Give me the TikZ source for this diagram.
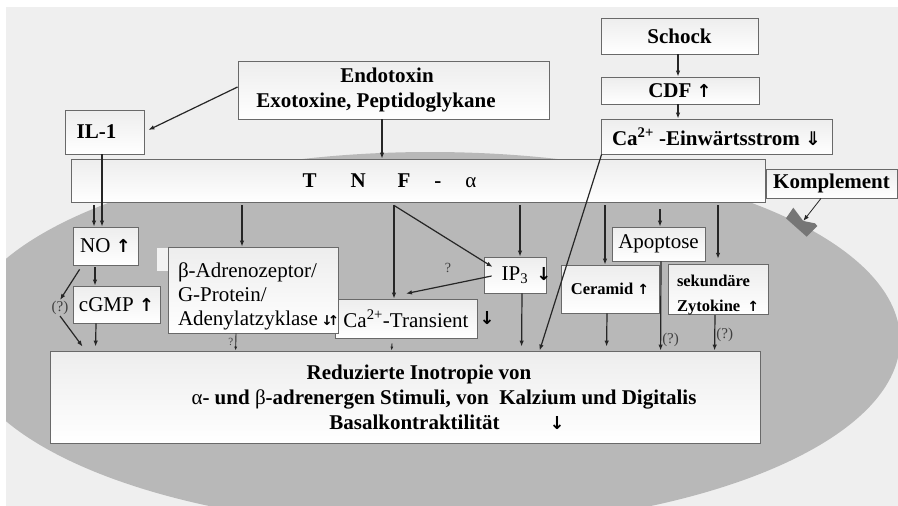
\documentclass[tikz,border=0pt]{standalone}
\usepackage{fontspec}
\setmainfont{Liberation Serif}
\newfontfamily\arrfont[Scale=0.85]{DejaVu Sans Bold}
\newfontfamily\dblarrfont[Scale=0.9]{DejaVu Sans}
\usetikzlibrary{arrows.meta,positioning}

\definecolor{paneltone}{RGB}{239,239,239}
\definecolor{celltone}{RGB}{184,184,184}
\definecolor{rezeptor}{RGB}{118,118,118}
\definecolor{rahmen}{RGB}{105,105,105}
\definecolor{hinweis}{RGB}{64,64,64}

\newcommand{\upar}{{\arrfont ↑}}
\newcommand{\dnar}{{\arrfont ↓}}

\begin{document}
\begin{tikzpicture}[x=1pt,y=-1pt,>={Latex[length=6pt,width=4.5pt]},
    box/.style={draw=rahmen,line width=0.8pt,top color=gray!14,bottom color=white,
      inner sep=0pt,font=\fontsize{21}{25}\selectfont\bfseries},
    plainbox/.style={box,font=\fontsize{21}{24}\selectfont},
    smallbox/.style={box,font=\fontsize{16.5}{25}\selectfont\bfseries},
    pfeil/.style={->,line width=1.2pt,black!85},
    kurz/.style={pfeil,>={Latex[length=4pt,width=3pt]},line width=0.9pt},
    frage/.style={font=\fontsize{15}{16}\selectfont,text=hinweis,inner sep=1pt}]

  \useasboundingbox (0,0) rectangle (898,506);
  % panel and cell
  \fill[paneltone] (6,7) rectangle (898,506);
  \begin{scope}
    \clip (6,7) rectangle (898,506);
    \fill[celltone] (430,340) ellipse [x radius=470pt, y radius=188pt];
  \end{scope}
  % complement receptor on the membrane
  \fill[rezeptor] (793.3,207.7) -- (803.3,221) -- (815,223.3) -- (817.3,226)
    -- (806.7,236.7) -- (786,218.3) -- cycle;
  \coordinate (rez) at (803.3,221);

  % sources
  \node[box,minimum width=311pt,minimum height=58pt,align=center] (endo) at (393.5,90)
    {Endotoxin\hspace{13pt}\mbox{}\\Exotoxine, Peptidoglykane\hspace{35pt}\mbox{}};
  \node[box,minimum width=79pt,minimum height=44pt] (il1) at (104.5,132) {IL-1\hspace{16pt}\mbox{}};
  \node[box,minimum width=157pt,minimum height=36pt] (schock) at (679.5,36) {Schock};
  \node[box,minimum width=158pt,minimum height=27pt] (cdf) at (680,90.5) {CDF \upar};
  \node[box,minimum width=231pt,minimum height=35pt] (caein) at (716.5,136.5) {Ca\textsuperscript{2+} -Einwärtsstrom {\dblarrfont ⇓}};

  % TNF bar
  \node[box,minimum width=694pt,minimum height=43pt] (tnf) at (418,180.5)
    {T\hspace{34pt}N\hspace{32pt}F\hspace{24pt}-\hspace{24pt}{\mdseries α}\hspace{57pt}\mbox{}};
  \node[box,minimum width=131pt,minimum height=29pt] (kompl) at (831.5,183.5) {Komplement};

  % inside the cell
  \node[plainbox,minimum width=65pt,minimum height=38pt] (no) at (105.5,246) {NO \upar};
  \node[plainbox,minimum width=87pt,minimum height=37pt] (cgmp) at (116.5,304.5) {cGMP \upar};
  \node[frage] (qno) at (60,308) {(?)};
  \node[plainbox,minimum width=142pt,minimum height=39pt] (catr) at (406,318.5) {Ca\textsuperscript{2+}-Transient};
  \node[right=2pt of catr,inner sep=0pt,font=\fontsize{21}{24}\selectfont] (catrdn) {\dnar};
  \fill[white!90!gray] (157,248) rectangle (168,271);
  \node[plainbox,minimum width=170pt,minimum height=86pt,align=left,text width=150pt] (beta) at (253,290)
    {\rule{0pt}{27pt}β-Adrenozeptor/\\G-Protein/\\Adenylatzyklase\,{\fontsize{16}{16}\arrfont ↓\kern-5pt↑}};
  \node[plainbox,minimum width=62pt,minimum height=36pt] (ip3) at (515,275) {IP\textsubscript{3}\rlap{\hspace{8pt}\dnar}};
  \node[frage,font=\fontsize{14}{15}\selectfont] (qip) at (448,268) {?};
  \node[smallbox,minimum width=98pt,minimum height=48pt] (ceramid) at (610,289) {Ceramid \upar};
  \node[plainbox,minimum width=93pt,minimum height=34pt] (apop) at (658.5,244) {Apoptose};
  \node[smallbox,minimum width=100pt,minimum height=47pt,align=left,text width=82pt] (zyto) at (718,289.5)
    {\rule{0pt}{22pt}sekundäre\\Zytokine\hfill\upar};

  % outcome
  \node[box,minimum width=710pt,minimum height=92pt,align=center] (red) at (405,397)
    {\hspace*{28pt}Reduzierte Inotropie von\\
     \hspace*{78pt}{\mdseries α}- und {\mdseries β}-adrenergen Stimuli, von\ \ Kalzium und Digitalis\\
     \hspace*{84pt}Basalkontraktilität\hspace{50pt}{\mdseries\dnar}};

  % arrows from the sources
  \draw[pfeil] ([yshift=3pt]endo.west) -- ([xshift=4pt,yshift=2pt]il1.east);
  \draw[pfeil] ([xshift=-11.5pt]endo.south) -- ([xshift=-36pt]tnf.north);
  \draw[pfeil] ([xshift=-1.5pt]schock.south) -- ([xshift=-2pt]cdf.north);
  \draw[pfeil] ([xshift=-2pt]cdf.south) -- ([xshift=-38.5pt]caein.north);
  \draw[pfeil,line width=0.8pt] ([xshift=-10.5pt]kompl.south) -- (rez);
  \draw[pfeil] ([xshift=-2.5pt]il1.south) -- ([xshift=-3.5pt]no.north);

  % TNF-alpha targets
  \draw[pfeil] ([xshift=-324pt,yshift=-3pt]tnf.south) -- ([xshift=-11.5pt]no.north);
  \draw[pfeil] ([xshift=-176pt,yshift=-3pt]tnf.south) -- ([xshift=-11pt]beta.north);
  \draw[pfeil] ([xshift=-24pt,yshift=-3pt]tnf.south) coordinate (gabel) -- ([xshift=-12pt]catr.north);
  \draw[pfeil] (gabel) -- ([xshift=9pt,yshift=8pt]ip3.west);
  \draw[pfeil] ([xshift=102pt,yshift=-3pt]tnf.south) -- ([xshift=5pt]ip3.north);
  \draw[pfeil] ([xshift=187pt,yshift=-3pt]tnf.south) -- ([xshift=-5pt]ceramid.north);
  \draw[pfeil] ([xshift=242pt,yshift=-7pt]tnf.south) -- ([xshift=1.5pt]apop.north);
  \draw[pfeil] ([xshift=300pt,yshift=-3pt]tnf.south) -- ([yshift=5pt]zyto.north);

  % inner cascade
  \draw[pfeil] ([xshift=-10.5pt,yshift=-2pt]no.south) -- ([xshift=-21.5pt]cgmp.north);
  \draw[pfeil] ([xshift=7pt,yshift=-4pt]no.south west) -- (qno.north);
  \draw[pfeil] ([xshift=8pt,yshift=-1pt]ip3.west) -- ([yshift=5pt]catr.north);

  % into the outcome box
  \draw[pfeil] (qno.south) -- ([xshift=33pt,yshift=4pt]red.north west);
  \draw[pfeil] ([xshift=-20.5pt]cgmp.south) -- ([xshift=46pt,yshift=4pt]red.north west);
  \draw[kurz] ([xshift=-17pt]beta.south) -- node[frage,left=1pt,font=\fontsize{11}{12}\selectfont] (qbeta) {?} ([xshift=186pt]red.north west);
  \draw[kurz] ([xshift=-14pt,yshift=-5pt]catr.south) -- ([xshift=342pt]red.north west);
  \draw[pfeil] ([xshift=7pt]ip3.south) -- ([xshift=472pt,yshift=4pt]red.north west);
  \draw[pfeil] ([xshift=1pt]caein.south west) -- ([xshift=490pt]red.north west);
  \draw[pfeil] ([xshift=-3pt]ceramid.south) -- ([xshift=557pt,yshift=4pt]red.north west);
  \draw[pfeil] ([xshift=2.5pt]apop.south) -- node[frage,right,pos=0.88] (qapop) {(?)} ([xshift=611pt]red.north west);
  \draw[pfeil] ([xshift=-3pt]zyto.south) -- node[frage,right,pos=0.55] (qzyto) {(?)} ([xshift=665pt]red.north west);
\end{tikzpicture}
\end{document}
